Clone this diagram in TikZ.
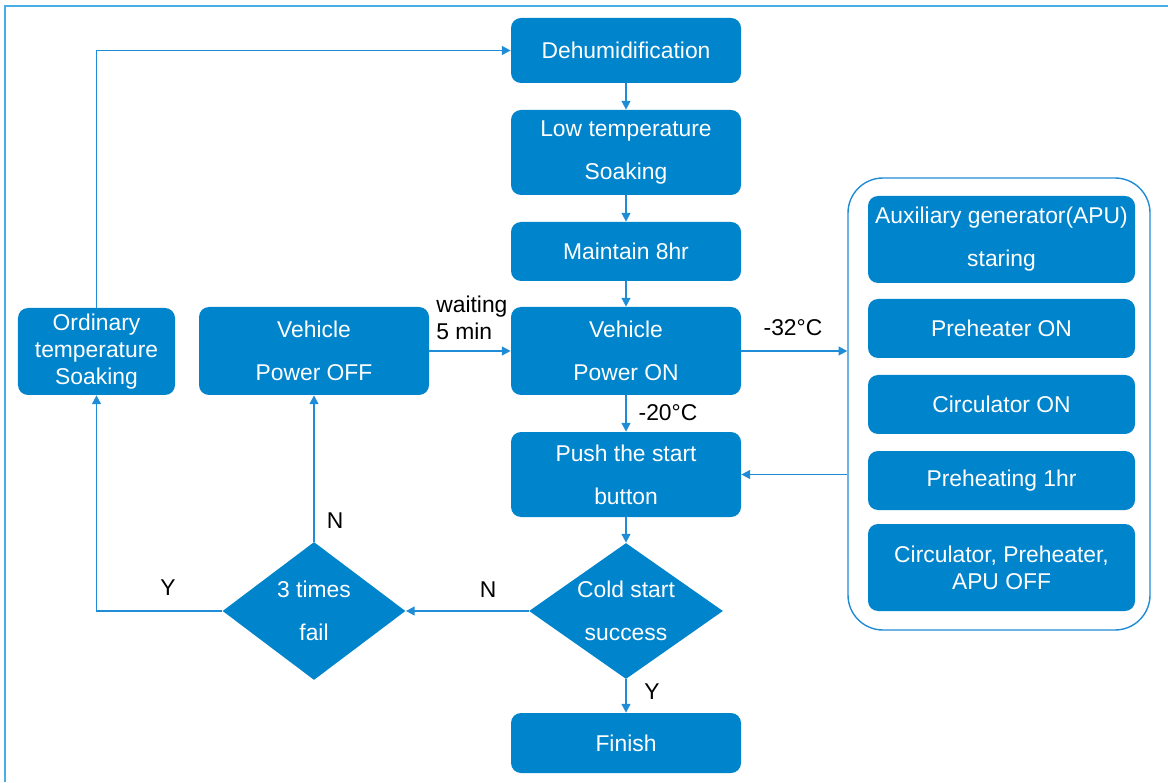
\documentclass[tikz,border=0pt]{standalone}
\usepackage{fontspec}
\setmainfont{Liberation Sans}
\usepackage{tikz}
\usetikzlibrary{positioning, calc, arrows.meta, shapes.geometric}

\begin{document}
\begin{tikzpicture}[
        box/.style={rectangle, rounded corners=0.2cm, fill=boxblue, text=white, align=center,
            inner sep=0pt, minimum width=4.6cm, font=\fontsize{13}{24.5}\selectfont},
        tightbox/.style={box, font=\fontsize{13}{15.5}\selectfont},
        sidebox/.style={box, minimum width=5.34cm},
        decision/.style={diamond, fill=boxblue, text=white, align=center, inner sep=0pt,
            font=\fontsize{13}{24.5}\selectfont},
        flow/.style={draw=lineblue, line width=1pt, -{Triangle[length=5pt, width=5pt]}},
        tag/.style={text=black, font=\fontsize{13}{15.5}\selectfont, inner sep=0pt}
    ]
        % colours
        \definecolor{boxblue}{RGB}{0, 132, 204}
        \definecolor{lineblue}{RGB}{30, 140, 215}
        \definecolor{frameblue}{RGB}{74, 174, 228}

        \useasboundingbox (0,0) rectangle (23.36,15.64);
        \draw[frameblue, line width=1.2pt] (0.1,0) -- (0.1,15.52) -- (23.36,15.52);

        % 1. main column
        \node[box, minimum height=1.3cm] (dehum) at (12.52, 14.63) {Dehumidification};
        \node[box, minimum height=1.7cm] (lowtemp) at (12.52, 12.59) {Low temperature\\Soaking};
        \node[box, minimum height=1.18cm] (maintain) at (12.52, 10.61) {Maintain 8hr};
        \node[box, minimum height=1.76cm] (poweron) at (12.52, 8.62) {Vehicle\\Power ON};
        \node[box, minimum height=1.7cm] (push) at (12.52, 6.15) {Push the start\\button};
        \node[decision, minimum width=3.88cm, minimum height=2.72cm, aspect=1.43] (cold) at (12.52, 3.42) {Cold start\\success};
        \node[box, minimum height=1.2cm] (finish) at (12.52, 0.78) {Finish};

        % 2. left side
        \node[box, minimum height=1.76cm] (poweroff) at (6.28, 8.62) {Vehicle\\Power OFF};
        \node[tightbox, minimum width=3.14cm, minimum height=1.74cm] (ordinary) at (1.93, 8.61) {Ordinary\\temperature\\Soaking};
        \node[decision, minimum width=3.66cm, minimum height=2.76cm, aspect=1.33] (fail) at (6.28, 3.42) {3 times\\fail};

        % 3. preheating group on the right
        \node[draw=lineblue, line width=0.8pt, rounded corners=0.7cm, minimum width=6.04cm, minimum height=9.04cm] (group) at (19.98, 7.56) {};
        \node[sidebox, minimum height=1.74cm] (apu) at (20.03, 10.85) {Auxiliary generator(APU)\\staring};
        \node[sidebox, minimum height=1.18cm] (preheater) at (20.03, 9.07) {Preheater ON};
        \node[sidebox, minimum height=1.18cm] (circulator) at (20.03, 7.55) {Circulator ON};
        \node[sidebox, minimum height=1.18cm] (preheating) at (20.03, 6.03) {Preheating 1hr};
        \node[sidebox, tightbox, minimum width=5.34cm, minimum height=1.74cm] (alloff) at (20.03, 4.29) {Circulator, Preheater,\\APU OFF};

        % 4. connectors
        \draw[flow] (dehum) -- (lowtemp);
        \draw[flow] (lowtemp) -- (maintain);
        \draw[flow] (maintain) -- (poweron);
        \draw[flow] (poweron) -- (push);
        \draw[flow] (push) -- (cold);
        \draw[flow] (cold) -- (finish);
        \draw[flow] (cold) -- (fail);
        \draw[flow] (fail) -- (poweroff);
        \draw[flow] (fail.west) -| (ordinary.south);
        \draw[flow] (ordinary.north) |- (dehum.west);
        \draw[flow] (poweroff) -- (poweron);
        \draw[flow] (poweron.east) -- (group.west |- poweron.east);
        \draw[flow] (group.west |- push.east) -- (push.east);

        % 5. labels on the connectors
        \node[tag, align=left, anchor=west] (waitlabel) at (8.72, 9.28) {waiting\\5 min};
        \node[tag] (minus32) at (15.86, 9.08) {-32°C};
        \node[tag] (minus20) at (13.36, 7.38) {-20°C};
        \node[tag] (nocold) at (9.76, 3.84) {N};
        \node[tag] (nofail) at (6.70, 5.22) {N};
        \node[tag] (yesfail) at (3.36, 3.88) {Y};
        \node[tag] (yescold) at (13.04, 1.80) {Y};

    \end{tikzpicture}
\end{document}
